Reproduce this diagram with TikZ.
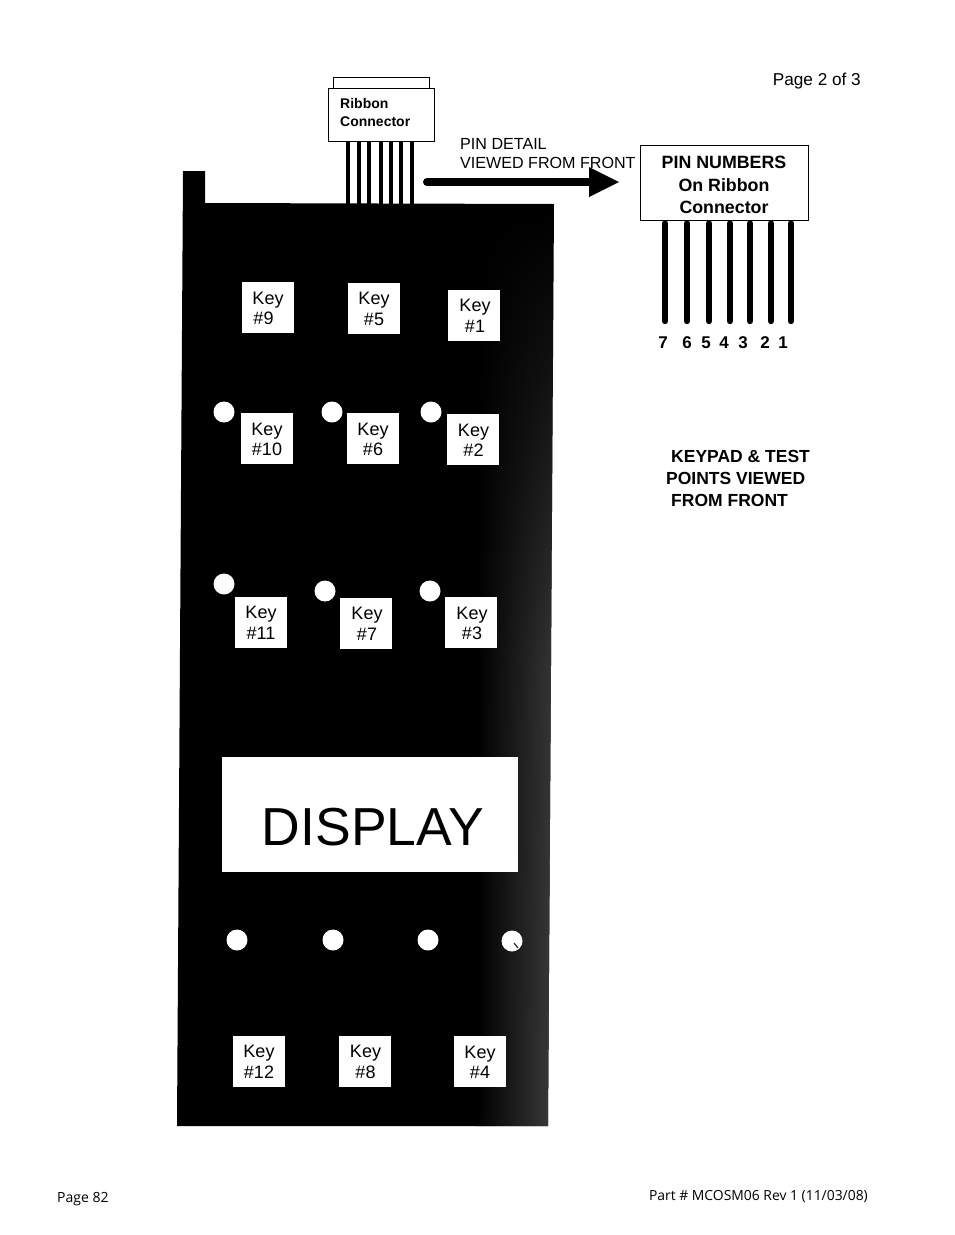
\documentclass[tikz,border=0pt]{standalone}
\usepackage{fontspec}
\setmainfont{Liberation Sans}
\newfontfamily\footfont{Open Sans}
\usetikzlibrary{fadings}
\tikzfading[name=fadedown,top color=transparent!100,bottom color=transparent!0,middle color=transparent!10]
\tikzset{
  keybox/.style={fill=white,minimum width=52pt,minimum height=51pt,inner sep=0pt},
  keytext/.style={inner sep=0pt,align=center,font=\fontsize{18}{20.5}\selectfont},
  hole/.style={circle,fill=white,minimum size=21pt,inner sep=0pt},
  lab/.style={anchor=west,inner sep=0pt,align=left},
  pinthin/.style={line width=4.6pt,black},
  pinthick/.style={line width=6.4pt,black,line cap=round},
  framebox/.style={draw=black,fill=white,line width=0.9pt,inner sep=0pt},
}
\begin{document}
\begin{tikzpicture}[x=1pt,y=-1pt]
\useasboundingbox (0,0) rectangle (954,1235);
% keypad body
\path[fill=black] (183,171) -- (205,171) -- (205,203) -- (554,204) -- (548,1126) -- (177,1126) -- cycle;
\begin{scope}
\clip (183,171) -- (205,171) -- (205,203) -- (554,204) -- (548,1126) -- (177,1126) -- cycle;
\shade[left color=black,right color=black!76!white,path fading=fadedown] (476,210) rectangle (556,1126);
\end{scope}
% ribbon connector
\node[framebox,minimum width=96pt,minimum height=11pt] (rtop) at (381,82.5) {};
\node[framebox,minimum width=106pt,minimum height=53pt] (rbox) at (381,114.5) {};
\node[lab,font=\bfseries\fontsize{14}{18}\selectfont] (rtext) at (340,112) {Ribbon\\Connector};
\coordinate (bodytop) at (381,204);
\foreach \x in {348,359,369,381,391,401,412}
  \draw[pinthin] (rbox.south -| \x,0) -- (bodytop -| \x,0);
% arrow
\node[lab,font=\fontsize{16.1}{19}\selectfont] (pindetail) at (460,153.5) {PIN DETAIL\\VIEWED FROM FRONT};
\coordinate (arrS) at (427,182);
\coordinate (arrE) at (590,182);
\coordinate (arrT) at (619,182);
\draw[line width=8pt,line cap=round] (arrS) -- (arrE);
\fill (589,167) -- (arrT) -- (589,197) -- cycle;
% pin numbers
\node[framebox,minimum width=168pt,minimum height=75pt] (pinbox) at (724,182.5) {};
\node[inner sep=0pt,align=center,font=\bfseries\fontsize{17.8}{22.4}\selectfont] (pintext) at (724,185) {PIN NUMBERS\\On Ribbon\\Connector};
\foreach \x/\n/\lx in {665/7/663,687/6/687,709/5/706,730/4/724,750/3/743,771/2/765,791/1/783}{
  \coordinate (pe\n) at (\x,321);
  \draw[pinthick] (pinbox.south -| pe\n) ++(0,3) -- (pe\n);
  \node[inner sep=0pt,font=\bfseries\fontsize{17}{18}\selectfont] (num\n) at (\lx,343) {\n};
}
% keys
\foreach \nm/\x/\y/\tx/\ta in {
  k9/268/307.5/268/{Key\\\#9\hspace*{9pt}},
  k5/374/308/374/{Key\\\#5},
  k1/474/315/475/{Key\\\#1},
  k10/267/438.5/267/{Key\\\#10},
  k6/373/438.5/373/{Key\\\#6},
  k2/472.5/439.5/473.5/{Key\\\#2},
  k11/260.5/622/261/{Key\\\#11},
  k7/366/623/367/{Key\\\#7},
  k3/471/622.5/472/{Key\\\#3},
  k12/259/1061/259/{Key\\\#12},
  k8/364.5/1061/365.5/{Key\\\#8},
  k4/479.5/1061.5/480/{Key\\\#4}}{
  \node[keybox] (\nm) at (\x,\y) {};
  \node[keytext] (\nm t) at (\tx,\y+1) {\ta};
}
% holes
\node[hole] (h1) at (224,412) {};
\node[hole] (h2) at (332,412) {};
\node[hole] (h3) at (431,412) {};
\node[hole] (h4) at (224,584) {};
\node[hole] (h5) at (325,591) {};
\node[hole] (h6) at (430,591) {};
\node[hole] (h7) at (237,940) {};
\node[hole] (h8) at (333,940) {};
\node[hole] (h9) at (428,940) {};
\node[hole] (h10) at (512,941) {};
\draw[black!80,line width=1.3pt] (h10.center) ++(2,2) -- ++(4,5);
% display
\node[fill=white,minimum width=296pt,minimum height=115pt,inner sep=0pt] (disp) at (370,814.5) {};
\node[inner sep=0pt,font=\fontsize{53.5}{53}\selectfont] (disptext) at (373,827) {DISPLAY};
% other text
\node[lab,anchor=east,font=\fontsize{17.2}{19}\selectfont] (pg) at (861,81.5) {Page 2 of 3};
\node[lab,font=\bfseries\fontsize{17.5}{22}\selectfont] (kp1) at (671,456) {KEYPAD \& TEST};
\node[lab,font=\bfseries\fontsize{17.5}{22}\selectfont] (kp2) at (666,478) {POINTS VIEWED};
\node[lab,font=\bfseries\fontsize{17.5}{22}\selectfont] (kp3) at (671,500) {FROM FRONT};
\node[lab,font=\footfont\fontsize{14}{16}\selectfont] (f1) at (57,1199.5) {Page 82};
\node[lab,anchor=east,font=\footfont\fontsize{13.9}{16}\selectfont] (f2) at (868,1196.5) {Part \# MCOSM06 Rev 1 (11/03/08)};
\end{tikzpicture}
\end{document}
